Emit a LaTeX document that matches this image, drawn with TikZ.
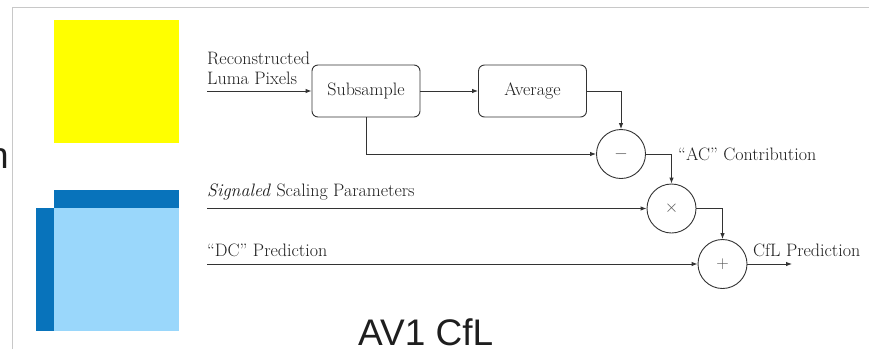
\documentclass[tikz,border=0pt]{standalone}
\usepackage{fontspec}
\newfontfamily\slidefont{Liberation Sans}
\usetikzlibrary{arrows.meta}
\definecolor{framegray}{HTML}{C8C8C8}
\definecolor{wire}{HTML}{333333}
\definecolor{ink}{HTML}{1E1E1E}
\definecolor{lumayellow}{HTML}{FFFF00}
\definecolor{chromadark}{HTML}{0873BB}
\definecolor{chromalight}{HTML}{9AD7FB}
\tikzset{
  blockbox/.style={draw=wire, line width=0.9pt, rounded corners=6pt, minimum width=108pt, minimum height=52pt, inner sep=0pt, font=\fontsize{18}{20.5}\selectfont, text=ink},
  opcircle/.style={draw=wire, line width=0.9pt, circle, minimum size=49pt, inner sep=0pt, font=\fontsize{18}{20.5}\selectfont, text=ink!75},
  wireline/.style={draw=wire, line width=0.9pt},
  flow/.style={wireline, -{Latex[length=6pt,width=4.5pt]}},
  lbl/.style={font=\fontsize{18}{20.5}\selectfont, text=ink, inner sep=0pt, align=left},
  slidetext/.style={font=\slidefont\fontsize{37}{42}\selectfont, text=ink, inner sep=0pt}
}
\begin{document}
\begin{tikzpicture}[x=1pt, y=-1pt]
\useasboundingbox (0,0) rectangle (869,349);
\fill[white] (0,0) rectangle (869,349);

% slide frame
\draw[framegray, line width=1pt] (12,349) -- (12,7) -- (869,7);

% slide text running in from the left edge
\node[slidetext, anchor=base east] (edge) at (9,168) {n};

% luma and chroma block icons
\fill[lumayellow] (54,20) rectangle (179,143);
\fill[chromadark] (54,190) rectangle (179,207.5);
\fill[chromadark] (36,207.5) rectangle (54,330.5);
\fill[chromalight] (54,207.5) rectangle (179,330.5);

% processing blocks
\node[blockbox] (sub) at (366,91) {Subsample};
\node[blockbox] (avg) at (532.5,91) {Average};
\node[opcircle] (minus) at (621,154) {$-$};
\node[opcircle] (times) at (671.5,208.5) {$\times$};
\node[opcircle] (plus) at (722.5,264) {$+$};

% inputs and output
\coordinate (lumain) at (207,91);
\coordinate (scalein) at (207,208.5);
\coordinate (dcin) at (207,264);
\coordinate (cflout) at (792,264);

\node[lbl, anchor=south west] (lumalbl) at (207,85) {Reconstructed\\Luma Pixels};
\node[lbl, anchor=base west] (scalelbl) at (207,196) {\textit{Signaled} Scaling Parameters};
\node[lbl, anchor=base west] (dclbl) at (207,256) {``DC'' Prediction};
\node[lbl, anchor=base west] (aclbl) at (678,160) {``AC'' Contribution};
\node[lbl, anchor=base west] (cfllbl) at (753,256) {CfL Prediction};

% connections
\draw[flow] (lumain) -- (sub);
\draw[flow] (sub) -- (avg);
\draw[flow] (avg.east) -| (minus.north);
\draw[flow] (sub.south) |- (minus.west);
\draw[flow] (minus.east) -| (times.north);
\draw[flow] (scalein) -- (times.west);
\draw[flow] (times.east) -| (plus.north);
\draw[flow] (dcin) -- (plus.west);
\draw[flow] (plus.east) -- (cflout);

% slide caption
\node[slidetext, anchor=base west] (caption) at (358,345) {AV1 CfL};
\end{tikzpicture}
\end{document}
